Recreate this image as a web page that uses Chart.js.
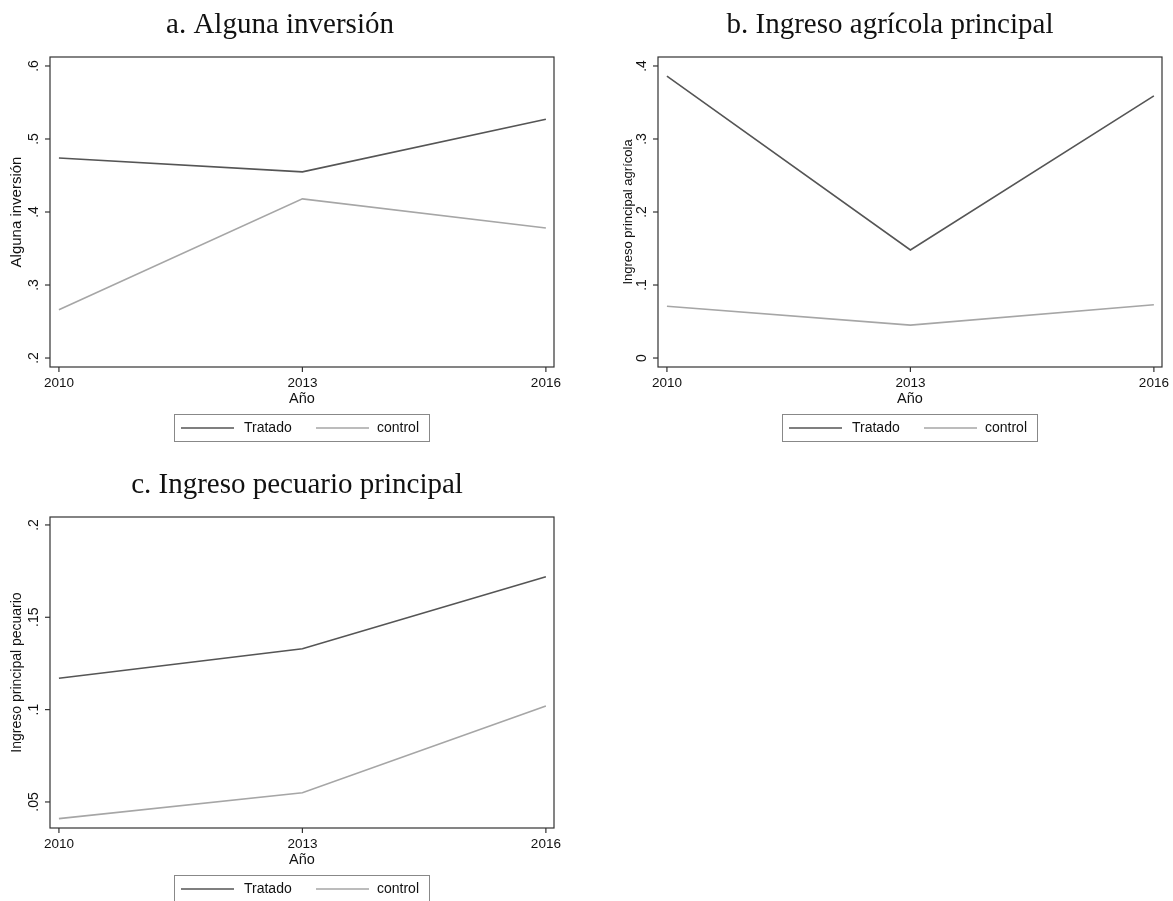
<!DOCTYPE html>
<html>
<head>
<meta charset="utf-8">
<script src="https://cdn.jsdelivr.net/npm/chart.js@4/dist/chart.umd.min.js"></script>
<style>
  body { margin: 0; background: #fff; }
  canvas { position: absolute; }
</style>
</head>
<body>
<canvas id="g1" width="586" height="450" style="left:0;top:0"></canvas>
<canvas id="g2" width="587" height="450" style="left:586px;top:0"></canvas>
<canvas id="g3" width="586" height="451" style="left:0;top:450px"></canvas>
<script>
// data
const years = [2010, 2013, 2016];

const invTratado = [0.474, 0.455, 0.527];
const invControl = [0.266, 0.418, 0.378];
const agrTratado = [0.386, 0.148, 0.359];
const agrControl = [0.071, 0.045, 0.073];
const pecTratado = [0.117, 0.133, 0.172];
const pecControl = [0.041, 0.055, 0.102];

const invTicks = [0.2, 0.3, 0.4, 0.5, 0.6];
const invTickLabels = ['.2', '.3', '.4', '.5', '.6'];
const agrTicks = [0, 0.1, 0.2, 0.3, 0.4];
const agrTickLabels = ['0', '.1', '.2', '.3', '.4'];
const pecTicks = [0.05, 0.1, 0.15, 0.2];
const pecTickLabels = ['.05', '.1', '.15', '.2'];

const seriesNames = ['Tratado', 'control'];
const colTratado = '#555555';
const colControl = '#a6a6a6';

const pts = (ys) => years.map((y, i) => ({x: y, y: ys[i]}));

// frame, ticks, labels, titles, legend drawn by hand (Stata look)
const stataPlugin = {
  id: 'stata',
  afterDraw(chart, args, o) {
    const ctx = chart.ctx;
    const a = chart.chartArea;
    const xs = chart.scales.x, ys = chart.scales.y;
    ctx.save();
    // frame
    ctx.strokeStyle = '#333';
    ctx.lineWidth = 1.2;
    ctx.strokeRect(a.left, a.top, a.right - a.left, a.bottom - a.top);

    ctx.fillStyle = '#111';
    ctx.font = '13.5px "Liberation Sans", Arial, sans-serif';
    // x ticks
    ctx.textAlign = 'center';
    ctx.textBaseline = 'top';
    years.forEach(v => {
      const px = xs.getPixelForValue(v);
      ctx.beginPath();
      ctx.moveTo(px, a.bottom);
      ctx.lineTo(px, a.bottom + 5);
      ctx.stroke();
      ctx.fillText(String(v), px, a.bottom + 10);
    });
    ctx.font = '14.5px "Liberation Sans", Arial, sans-serif';
    ctx.fillText('Año', (a.left + a.right) / 2, a.bottom + 25);

    // y ticks, rotated
    ctx.font = '14px "Liberation Sans", Arial, sans-serif';
    o.ticks.forEach((v, i) => {
      const py = ys.getPixelForValue(v);
      ctx.beginPath();
      ctx.moveTo(a.left, py);
      ctx.lineTo(a.left - 5, py);
      ctx.stroke();
      ctx.save();
      ctx.translate(a.left - 9, py);
      ctx.rotate(-Math.PI / 2);
      ctx.textAlign = 'center';
      ctx.textBaseline = 'bottom';
      ctx.fillText(o.labels[i], 0, 0);
      ctx.restore();
    });
    ctx.save();
    ctx.font = o.ytSize + 'px "Liberation Sans", Arial, sans-serif';
    ctx.translate(a.left - o.ytOff, (a.top + a.bottom) / 2);
    ctx.rotate(-Math.PI / 2);
    ctx.textAlign = 'center';
    ctx.textBaseline = 'middle';
    ctx.fillText(o.ytitle, 0, 0);
    ctx.restore();

    // title
    ctx.font = '29px "Liberation Serif", "Times New Roman", serif';
    ctx.textAlign = 'center';
    ctx.textBaseline = 'alphabetic';
    ctx.fillText(o.title, o.titleX, a.top - 24);

    // legend
    const cx = (a.left + a.right) / 2;
    const lx = cx - 128, ly = a.bottom + 47;
    ctx.strokeStyle = '#888';
    ctx.lineWidth = 1;
    ctx.strokeRect(lx + 0.5, ly + 0.5, 255, 27);
    ctx.font = '14px "Liberation Sans", Arial, sans-serif';
    ctx.textAlign = 'left';
    ctx.textBaseline = 'middle';
    const my = ly + 14;
    chart.data.datasets.forEach((ds, i) => {
      const x0 = lx + 7 + i * 135;
      ctx.strokeStyle = ds.borderColor;
      ctx.lineWidth = 1.5;
      ctx.beginPath();
      ctx.moveTo(x0, my);
      ctx.lineTo(x0 + 53, my);
      ctx.stroke();
      ctx.fillStyle = '#111';
      ctx.fillText(ds.label, x0 + 63 - i * 2, my);
    });
    ctx.restore();
  }
};

function makeChart(id, tr, co, ymin, ymax, pad, opts) {
  return new Chart(document.getElementById(id), {
    type: 'line',
    data: {
      datasets: [
        {label: seriesNames[0], data: pts(tr), borderColor: colTratado, borderWidth: 1.6, pointRadius: 0, tension: 0},
        {label: seriesNames[1], data: pts(co), borderColor: colControl, borderWidth: 1.6, pointRadius: 0, tension: 0}
      ]
    },
    options: {
      responsive: false,
      animation: false,
      layout: {padding: pad},
      plugins: {legend: {display: false}, tooltip: {enabled: false}, stata: opts},
      scales: {
        x: {type: 'linear', min: 2009.89, max: 2016.1, display: false},
        y: {type: 'linear', min: ymin, max: ymax, display: false}
      }
    },
    plugins: [stataPlugin]
  });
}

makeChart('g1', invTratado, invControl, 0.1877, 0.6123,
  {left: 50, top: 57, right: 32, bottom: 83},
  {ticks: invTicks, labels: invTickLabels, ytitle: 'Alguna inversión', ytOff: 33, ytSize: 15, title: 'a. Alguna inversión', titleX: 280});

makeChart('g2', agrTratado, agrControl, -0.0123, 0.4123,
  {left: 72, top: 57, right: 11, bottom: 83},
  {ticks: agrTicks, labels: agrTickLabels, ytitle: 'Ingreso principal agrícola', ytOff: 30, ytSize: 13, title: 'b. Ingreso agrícola principal', titleX: 304});

makeChart('g3', pecTratado, pecControl, 0.0359, 0.2043,
  {left: 50, top: 67, right: 32, bottom: 73},
  {ticks: pecTicks, labels: pecTickLabels, ytitle: 'Ingreso principal pecuario', ytOff: 33, ytSize: 14, title: 'c. Ingreso pecuario principal', titleX: 297});
</script>
</body>
</html>
